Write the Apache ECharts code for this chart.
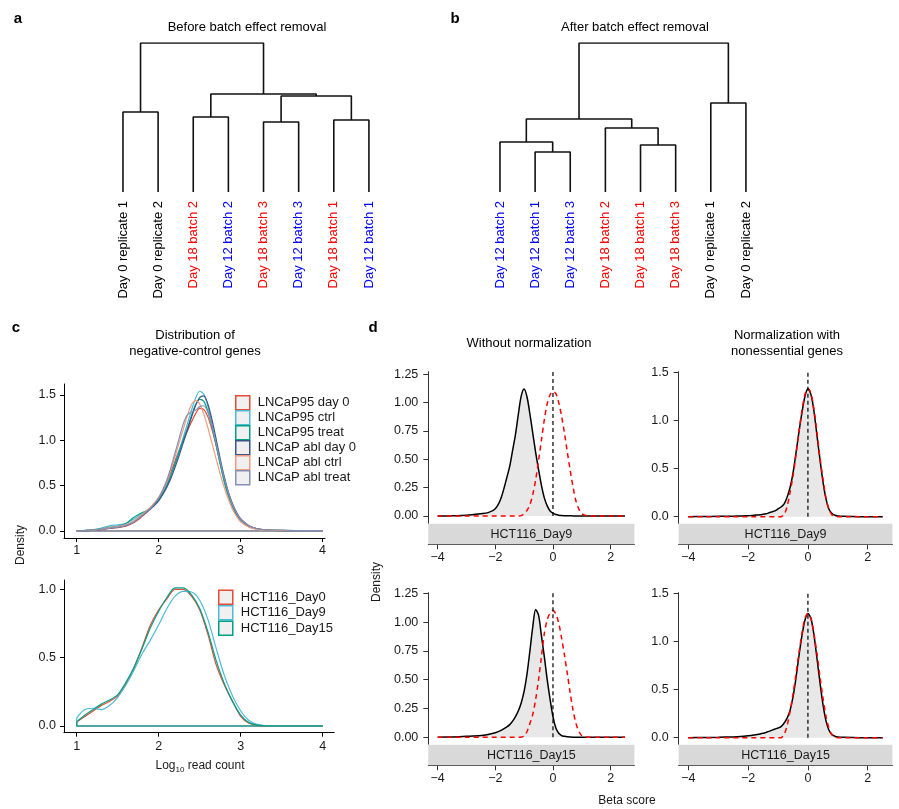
<!DOCTYPE html>
<html><head><meta charset="utf-8">
<script src="https://cdn.jsdelivr.net/npm/echarts@6/dist/echarts.min.js"></script>
<style>html,body{margin:0;padding:0;background:#fff}#chart{width:899px;height:809px}</style>
</head><body><div id="chart"></div>
<script>
// ---------------- DATA ----------------
// a: dendrogram before batch effect removal (leaf order left->right)
const aLeaves = ['Day 0 replicate 1','Day 0 replicate 2','Day 18 batch 2','Day 12 batch 2','Day 18 batch 3','Day 12 batch 3','Day 18 batch 1','Day 12 batch 1'];
const aMerge = [[-1,-2],[-3,-4],[-5,-6],[-7,-8],[3,4],[2,5],[1,6]];
const aHeights = [0.537,0.503,0.470,0.483,0.644,0.658,1.0];
// b: dendrogram after batch effect removal
const bLeaves = ['Day 12 batch 2','Day 12 batch 1','Day 12 batch 3','Day 18 batch 2','Day 18 batch 1','Day 18 batch 3','Day 0 replicate 1','Day 0 replicate 2'];
const bMerge = [[-2,-3],[-1,1],[-5,-6],[-4,3],[2,4],[-7,-8],[5,6]];
const bHeights = [0.268,0.336,0.315,0.430,0.490,0.597,1.0];

// c (top): density of negative-control genes
const cTopNames = ['LNCaP95 day 0','LNCaP95 ctrl','LNCaP95 treat','LNCaP abl day 0','LNCaP abl ctrl','LNCaP abl treat'];
const cTopXs = [1,1.1,1.2,1.3,1.4,1.5,1.6,1.7,1.8,1.85,1.9,1.95,2,2.05,2.1,2.15,2.2,2.25,2.3,2.35,2.4,2.45,2.5,2.55,2.6,2.65,2.7,2.75,2.8,2.85,2.9,2.95,3,3.1,3.2,3.3,3.4,3.5,3.6,3.8,4];
const cLNCaP95Day0 = [0,0.002,0.005,0.012,0.025,0.035,0.05,0.09,0.16,0.2,0.25,0.3,0.36,0.44,0.54,0.65,0.77,0.89,1.0,1.1,1.2,1.29,1.35,1.34,1.26,1.12,0.95,0.76,0.58,0.42,0.29,0.2,0.13,0.055,0.022,0.009,0.004,0.002,0.001,0,0];
const cLNCaP95Ctrl = [0,0.005,0.012,0.03,0.055,0.065,0.08,0.13,0.19,0.22,0.25,0.29,0.34,0.41,0.5,0.61,0.74,0.88,1.03,1.18,1.33,1.46,1.54,1.51,1.38,1.18,0.96,0.74,0.54,0.38,0.26,0.17,0.11,0.045,0.017,0.007,0.003,0.002,0.001,0,0];
const cLNCaP95Treat = [0,0.003,0.008,0.02,0.04,0.05,0.08,0.15,0.2,0.22,0.25,0.29,0.34,0.41,0.5,0.61,0.74,0.87,1.0,1.13,1.27,1.39,1.45,1.43,1.32,1.15,0.95,0.74,0.55,0.39,0.27,0.18,0.12,0.05,0.02,0.008,0.004,0.002,0.001,0,0];
const cAblDay0 = [0,0.002,0.006,0.015,0.03,0.04,0.06,0.1,0.17,0.2,0.24,0.28,0.33,0.4,0.48,0.58,0.7,0.83,0.97,1.11,1.25,1.38,1.47,1.49,1.4,1.23,1.02,0.8,0.6,0.43,0.3,0.2,0.13,0.055,0.022,0.009,0.004,0.002,0.001,0,0];
const cAblCtrl = [0,0.003,0.008,0.018,0.035,0.045,0.065,0.11,0.18,0.22,0.26,0.31,0.37,0.45,0.55,0.68,0.82,0.97,1.12,1.27,1.39,1.44,1.4,1.29,1.14,0.97,0.8,0.63,0.48,0.35,0.24,0.16,0.1,0.04,0.015,0.006,0.003,0.002,0.001,0,0];
const cAblTreat = [0,0.003,0.007,0.015,0.03,0.04,0.06,0.1,0.17,0.21,0.25,0.3,0.36,0.45,0.56,0.7,0.86,1.02,1.18,1.28,1.31,1.33,1.37,1.38,1.31,1.16,0.97,0.77,0.58,0.42,0.29,0.2,0.13,0.055,0.022,0.01,0.008,0.01,0.004,0.001,0];

// c (bottom): HCT116
const cBotNames = ['HCT116_Day0','HCT116_Day9','HCT116_Day15'];
const cBotXs = [1,1.1,1.2,1.3,1.4,1.5,1.6,1.7,1.8,1.9,2,2.1,2.2,2.3,2.4,2.5,2.6,2.7,2.8,2.9,3,3.1,3.2,3.3,3.4,3.5,3.6,3.7,3.8,3.9,4];
const cHctDay0 = [0.03,0.07,0.11,0.15,0.18,0.22,0.31,0.43,0.58,0.74,0.85,0.93,1.0,1.0,0.95,0.85,0.67,0.45,0.3,0.18,0.07,0.02,0.005,0.001,0,0,0,0,0,0,0];
const cHctDay9 = [0.06,0.12,0.13,0.12,0.15,0.21,0.3,0.41,0.53,0.63,0.74,0.86,0.95,0.985,0.98,0.92,0.78,0.57,0.37,0.22,0.11,0.04,0.012,0.003,0,0,0,0,0,0,0];
const cHctDay15 = [0.03,0.08,0.12,0.16,0.19,0.23,0.32,0.43,0.57,0.72,0.84,0.94,1.01,1.01,0.96,0.86,0.69,0.48,0.31,0.18,0.08,0.025,0.006,0.001,0,0,0,0,0,0,0];

// d: beta score densities (black = all genes, red dashed = reference)
const dXs = [-4,-3.5,-3,-2.5,-2.25,-2,-1.8,-1.6,-1.5,-1.4,-1.3,-1.2,-1.1,-1,-0.9,-0.8,-0.7,-0.6,-0.5,-0.4,-0.3,-0.2,-0.1,0,0.1,0.2,0.3,0.4,0.5,0.6,0.7,0.8,0.9,1,1.2,1.5,2,2.5];
const dDay9Raw = [0,0.002,0.006,0.02,0.03,0.065,0.16,0.34,0.44,0.58,0.72,0.9,1.06,1.12,1.05,0.9,0.73,0.56,0.41,0.27,0.16,0.09,0.045,0.025,0.013,0.007,0.004,0.003,0.002,0.002,0.001,0.001,0.001,0.001,0,0,0,0];
const dDay9RawRef = [0,0,0,0,0,0,0,0,0,0,0,0,0.004,0.02,0.05,0.1,0.19,0.32,0.49,0.67,0.85,0.99,1.07,1.1,1.08,1.0,0.88,0.73,0.56,0.4,0.25,0.13,0.06,0.02,0.002,0,0,0];
const dDay15Raw = [0,0.003,0.008,0.015,0.025,0.04,0.06,0.09,0.11,0.14,0.18,0.23,0.3,0.4,0.55,0.75,0.96,1.11,1.06,0.88,0.7,0.5,0.33,0.18,0.08,0.035,0.015,0.008,0.004,0.002,0.001,0.001,0,0,0,0,0,0];
const dDay15RawRef = [0,0,0,0,0,0,0,0,0,0,0,0,0.002,0.01,0.05,0.12,0.2,0.33,0.5,0.7,0.9,1.02,1.08,1.1,1.07,0.99,0.86,0.71,0.55,0.38,0.23,0.12,0.05,0.015,0.001,0,0,0];
const dDay9Norm = [0,0.001,0.003,0.005,0.007,0.01,0.015,0.02,0.025,0.03,0.04,0.05,0.06,0.08,0.1,0.13,0.2,0.3,0.45,0.66,0.88,1.08,1.25,1.33,1.27,1.1,0.85,0.6,0.37,0.19,0.08,0.035,0.015,0.008,0.003,0.001,0,0];
const dDay9NormRef = [0,0,0,0,0,0,0,0,0,0,0,0,0,0,0,0.02,0.1,0.25,0.42,0.64,0.88,1.1,1.27,1.33,1.28,1.12,0.88,0.62,0.4,0.2,0.08,0.02,0.005,0,0,0,0,0];
const dDay15Norm = [0,0.002,0.004,0.008,0.012,0.02,0.028,0.038,0.045,0.055,0.065,0.078,0.09,0.1,0.115,0.15,0.2,0.28,0.42,0.62,0.85,1.06,1.22,1.29,1.24,1.07,0.83,0.58,0.35,0.18,0.08,0.035,0.015,0.007,0.003,0.001,0,0];
const dDay15NormRef = [0,0,0,0,0,0,0,0,0,0,0,0,0,0,0,0.03,0.12,0.27,0.45,0.66,0.88,1.08,1.24,1.29,1.24,1.08,0.88,0.64,0.42,0.23,0.1,0.03,0.006,0,0,0,0,0];
const dRefLine = 0;

// tick labels
const cXTicks = [1,2,3,4];
const cTopYTicks = [0,0.5,1,1.5];
const cBotYTicks = [0,0.5,1];
const dLeftYTicks = [0,0.25,0.5,0.75,1,1.25];
const dRightYTicks = [0,0.5,1,1.5];
const dXTicks = [-4,-2,0,2];

// ---------------- STYLE ----------------
const FONT = "'Liberation Sans', Arial, Helvetica, sans-serif";
const TXT = '#1a1a1a';
const cTopColors = ['#E64B35','#4DBBD5','#00A087','#3C5488','#F39B7F','#8491B4'];
const cBotColors = ['#E64B35','#4DBBD5','#00A087'];
function leafColor(l){ return /^Day 18/.test(l) ? '#ff0000' : (/^Day 12/.test(l) ? '#0000ff' : '#000000'); }
function pairs(xs, ys){ return xs.map((x,i)=>[x, ys[i]]); }
function minusFmt(v){ return v < 0 ? '\u2212' + Math.abs(v) : String(v); }

function dendroSegments(merge, heights){
  const pos = [], hts = [], segs = [];
  const node = id => id < 0 ? [(-id) - 1, 0] : [pos[id - 1], hts[id - 1]];
  merge.forEach((m, i) => {
    const [xl, hl] = node(m[0]); const [xr, hr] = node(m[1]); const h = heights[i];
    segs.push([[xl, hl], [xl, h], [xr, h], [xr, hr]]);
    pos.push((xl + xr) / 2); hts.push(h);
  });
  return segs;
}

// ---------------- LAYOUT ----------------
const grids = [
  {left:105.4, top:43, width:281.1, height:149},     // 0 a
  {left:482.4, top:43, width:281.1, height:149},     // 1 b
  {left:64, top:384, width:261, height:154},         // 2 c top
  {left:64, top:580, width:270.2, height:152.7},     // 3 c bottom
  {left:428.3, top:371.7, width:206.1, height:151.6},// 4 d TL
  {left:678.6, top:371.7, width:213.8, height:151.6},// 5 d TR
  {left:428.3, top:592.7, width:206.1, height:151.6},// 6 d BL
  {left:678.6, top:592.7, width:213.8, height:151.6} // 7 d BR
].map(g => Object.assign({containLabel:false, outerBoundsMode:'none'}, g));

const tickLabel = {fontSize:12.5, color:TXT, fontFamily:FONT};
function valX(grid, min, max, ticks, opts){
  return Object.assign({type:'value', gridIndex:grid, position:'bottom', min, max,
    axisLine:{show:true, onZero:false, lineStyle:{color:'#000', width:1}},
    axisTick:{show:true, length:4, customValues:ticks, lineStyle:{color:'#000'}},
    axisLabel:Object.assign({customValues:ticks, margin:6, formatter:minusFmt}, tickLabel),
    splitLine:{show:false}}, opts || {});
}
function valY(grid, min, max, ticks, dec, opts){
  return Object.assign({type:'value', gridIndex:grid, min, max,
    axisLine:{show:true, onZero:false, lineStyle:{color:'#000', width:1}},
    axisTick:{show:true, length:4, customValues:ticks, lineStyle:{color:'#000'}},
    axisLabel:Object.assign({customValues:ticks, margin:8, formatter:v => Number(v).toFixed(dec)}, tickLabel),
    splitLine:{show:false}}, opts || {});
}
function hiddenX(grid){ return {type:'value', gridIndex:grid, position:'bottom', min:-0.5, max:7.5, show:false}; }
function leafAxis(grid, leaves){
  return {type:'category', gridIndex:grid, position:'bottom', data:leaves, boundaryGap:true,
    axisLine:{show:false}, axisTick:{show:false}, splitLine:{show:false},
    axisLabel:{interval:0, rotate:90, margin:9, fontSize:13, fontFamily:FONT, color:(v) => leafColor(v)}};
}

const dAxisOpts = {offset:21};
const dAxisColor = '#333';
const xAxes = [
  hiddenX(0), leafAxis(0, aLeaves),
  hiddenX(1), leafAxis(1, bLeaves),
  valX(2, 0.845, 4.03, cXTicks),
  valX(3, 0.845, 4.14, cXTicks, {axisLabel:Object.assign({customValues:cXTicks, margin:7, formatter:minusFmt}, tickLabel)}),
  valX(4, -4.325, 2.825, dXTicks, dAxisOpts),
  valX(5, -4.325, 2.825, dXTicks, dAxisOpts),
  valX(6, -4.325, 2.825, dXTicks, dAxisOpts),
  valX(7, -4.325, 2.825, dXTicks, dAxisOpts)
];
[6,7,8,9].forEach(i => { xAxes[i].axisLine.lineStyle.color = dAxisColor; xAxes[i].axisTick.lineStyle.color = dAxisColor; xAxes[i].axisTick.length = 5; xAxes[i].axisLabel.margin = 7; });
const yAxes = [
  {type:'value', gridIndex:0, min:0, max:1, show:false},
  {type:'value', gridIndex:1, min:0, max:1, show:false},
  valY(2, -0.08, 1.62, cTopYTicks, 1),
  valY(3, -0.049, 1.068, cBotYTicks, 1),
  valY(4, -0.064, 1.273, dLeftYTicks, 2),
  valY(5, -0.069, 1.506, dRightYTicks, 1),
  valY(6, -0.061, 1.255, dLeftYTicks, 2),
  valY(7, -0.069, 1.506, dRightYTicks, 1)
];
[4,5,6,7].forEach(i => { yAxes[i].axisLine.lineStyle.color = dAxisColor; yAxes[i].axisTick.lineStyle.color = dAxisColor; yAxes[i].axisTick.length = 5; yAxes[i].axisLabel.margin = 10; });

// ---------------- SERIES ----------------
const series = [];
function addDendro(merge, heights, xi, yi){
  dendroSegments(merge, heights).forEach(seg => series.push({type:'line', xAxisIndex:xi, yAxisIndex:yi, data:seg,
    symbol:'none', silent:true, lineStyle:{color:'#111', width:1.6}}));
}
addDendro(aMerge, aHeights, 0, 0);
addDendro(bMerge, bHeights, 2, 1);

function addDensityGroup(names, colors, xs, ys, xi, yi){
  ys.forEach((y, k) => series.push({type:'line', xAxisIndex:xi, yAxisIndex:yi, symbol:'none', silent:true,
    data:[[xs[0], y[0]], [xs[0], 0], [xs[xs.length-1], 0]], lineStyle:{color:colors[k], width:1.2}}));
  ys.forEach((y, k) => series.push({type:'line', name:names[k], xAxisIndex:xi, yAxisIndex:yi, symbol:'none',
    smooth:0.3, data:pairs(xs, y), lineStyle:{color:colors[k], width:1.2}, itemStyle:{color:colors[k]}}));
}
addDensityGroup(cTopNames, cTopColors, cTopXs, [cLNCaP95Day0, cLNCaP95Ctrl, cLNCaP95Treat, cAblDay0, cAblCtrl, cAblTreat], 4, 2);
addDensityGroup(cBotNames, cBotColors, cBotXs, [cHctDay0, cHctDay9, cHctDay15], 5, 3);

function addBeta(xi, yi, raw, ref){
  series.push({type:'line', xAxisIndex:xi, yAxisIndex:yi, symbol:'none', silent:true, smooth:0.3,
    data:pairs(dXs, raw), lineStyle:{color:'#000', width:1.5}, areaStyle:{color:'#e8e8e8', opacity:1}});
  series.push({type:'line', xAxisIndex:xi, yAxisIndex:yi, symbol:'none', silent:true, smooth:0.3,
    data:pairs(dXs, ref), lineStyle:{color:'#ff0000', width:1.5, type:[5,4]}});
  series.push({type:'line', xAxisIndex:xi, yAxisIndex:yi, symbol:'none', silent:true,
    data:[[dRefLine, 0], [dRefLine, yAxes[yi].max]], lineStyle:{color:'#000', width:1.2, type:[4,3]}});
}
addBeta(6, 4, dDay9Raw, dDay9RawRef);
addBeta(7, 5, dDay9Norm, dDay9NormRef);
addBeta(8, 6, dDay15Raw, dDay15RawRef);
addBeta(9, 7, dDay15Norm, dDay15NormRef);

// ---------------- LEGENDS ----------------
function legend(names, colors, left, top, gap){
  return {show:true, orient:'vertical', left, top, padding:0, itemWidth:14, itemHeight:14, itemGap:gap,
    icon:'rect', selectedMode:false,
    textStyle:{fontSize:13, lineHeight:14, color:TXT, fontFamily:FONT, padding:[0,0,0,3]},
    data:names.map((n, i) => ({name:n, icon:'rect', itemStyle:{color:'#f0f0f0', borderColor:colors[i], borderWidth:1.5}}))};
}

// ---------------- TEXT / STRIPS ----------------
function txt(x, y, text, o){
  o = o || {};
  return {type:'text', x, y, rotation:o.rot || 0, silent:true, z:100,
    style:Object.assign({text, fill:o.color || '#000', font:(o.weight || 'normal') + ' ' + (o.size || 13) + 'px ' + FONT,
      textAlign:o.align || 'center', textVerticalAlign:'middle', verticalAlign:'middle'}, o.extra || {})};
}
const graphics = [
  txt(18, 19, 'a', {weight:'bold', size:15}),
  txt(455, 19, 'b', {weight:'bold', size:15}),
  txt(16, 328, 'c', {weight:'bold', size:15}),
  txt(373, 328, 'd', {weight:'bold', size:15}),
  txt(247, 27, 'Before batch effect removal'),
  txt(635, 27, 'After batch effect removal'),
  txt(195, 335, 'Distribution of'),
  txt(195, 351, 'negative-control genes'),
  txt(529, 343, 'Without normalization'),
  txt(787, 335, 'Normalization with'),
  txt(787, 351, 'nonessential genes'),
  txt(21, 545, 'Density', {rot:Math.PI/2, size:12, color:TXT}),
  txt(377, 582, 'Density', {rot:Math.PI/2, size:12, color:TXT}),
  txt(627, 801, 'Beta score', {size:12, color:TXT}),
  {type:'text', x:200, y:766, silent:true, z:100, style:{text:'Log{s|10} read count', fill:TXT, font:'12px ' + FONT,
    textAlign:'center', verticalAlign:'middle', textVerticalAlign:'middle',
    rich:{s:{fontSize:8, fontFamily:FONT, fill:TXT, padding:[7,0,0,0]}}}}
];
const strips = [[4,'HCT116_Day9'],[5,'HCT116_Day9'],[6,'HCT116_Day15'],[7,'HCT116_Day15']];
strips.forEach(([gi, label]) => {
  const g = grids[gi];
  graphics.push({type:'rect', silent:true, z:90, shape:{x:g.left, y:g.top + g.height + 0.5, width:g.width, height:20.5},
    style:{fill:'#d9d9d9', stroke:null}});
  graphics.push(txt(g.left + g.width / 2, g.top + g.height + 11, label, {size:12.5, color:TXT}));
});

const chart = echarts.init(document.getElementById('chart'), null, {renderer:'canvas'});
chart.setOption({
  animation:false,
  backgroundColor:'#ffffff',
  textStyle:{fontFamily:FONT},
  grid:grids, xAxis:xAxes, yAxis:yAxes, series,
  legend:[legend(cTopNames, cTopColors, 235, 395, -0.5), legend(cBotNames, cBotColors, 218, 589.5, 0)],
  graphic:graphics
});
</script></body></html>
